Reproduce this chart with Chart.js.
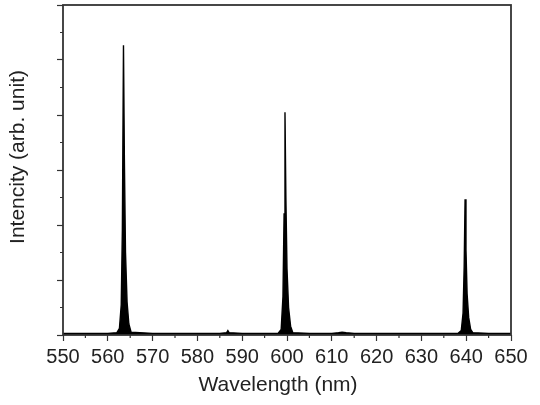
<!DOCTYPE html>
<html>
<head>
<meta charset="utf-8">
<script src="https://cdn.jsdelivr.net/npm/chart.js@4/dist/chart.umd.min.js"></script>
<style>
  html, body { margin: 0; padding: 0; background: #fff; }
  #wrap { width: 540px; height: 405px; }
</style>
</head>
<body>
<div id="wrap"><canvas id="myChart"></canvas></div>
<script>
// spectrum (wavelength in nm, intensity in arb. units)
const wavelength = [
    550, 555, 560, 562.0, 562.6, 563.0, 563.25, 563.5, 563.7, 563.95, 564.3, 564.7, 565.2,
    570, 575, 580, 585, 586.5, 586.8, 587.1, 590, 595,
    598.0, 598.7, 599.1, 599.35, 599.55, 599.75, 600.0, 600.35, 600.8, 601.3,
    605, 610, 611.5, 612.3, 613.2, 615, 620, 625, 630, 635,
    638.2, 638.9, 639.3, 639.55, 639.75, 639.95, 640.2, 640.55, 641.0, 641.5,
    645, 650
];
const intensity = [
    0.03, 0.03, 0.03, 0.04, 0.12, 0.55, 1.90, 5.27, 3.20, 1.50, 0.60, 0.20, 0.05,
    0.03, 0.03, 0.03, 0.03, 0.04, 0.08, 0.04, 0.03, 0.03,
    0.03, 0.10, 0.70, 2.20, 4.05, 2.50, 1.20, 0.50, 0.16, 0.04,
    0.03, 0.03, 0.04, 0.05, 0.04, 0.03, 0.03, 0.03, 0.03, 0.03,
    0.03, 0.08, 0.40, 1.25, 2.47, 1.55, 0.75, 0.32, 0.10, 0.04,
    0.03, 0.03
];
const xTickLabels = ['550', '560', '570', '580', '590', '600', '610', '620', '630', '640', '650'];
const yTicks = [0, 1, 2, 3, 4, 5, 6];
const xTitle = 'Wavelength (nm)';
const yTitle = 'Intencity (arb. unit)';

const AXIS = '#333';
const FONT = "'Liberation Sans', Arial, sans-serif";
const points = wavelength.map((w, i) => ({ x: w, y: intensity[i] }));

// frame, short minor ticks and the two axis titles
const framePlugin = {
    id: 'frame',
    afterDraw(chart) {
        const { ctx, chartArea: a, scales } = chart;
        ctx.save();
        ctx.strokeStyle = AXIS;
        ctx.lineWidth = 1.8;
        ctx.strokeRect(a.left, a.top, a.right - a.left, a.bottom - a.top);
        ctx.lineWidth = 1.2;
        ctx.beginPath();
        for (let v = 555; v < 650; v += 10) {
            const px = scales.x.getPixelForValue(v);
            ctx.moveTo(px, a.bottom);
            ctx.lineTo(px, a.bottom + 3);
        }
        for (let v = 0.5; v < 6; v += 1) {
            const py = scales.y.getPixelForValue(v);
            ctx.moveTo(a.left, py);
            ctx.lineTo(a.left - 3, py);
        }
        ctx.stroke();

        ctx.fillStyle = '#222';
        ctx.font = '21px ' + FONT;
        ctx.textAlign = 'center';
        ctx.textBaseline = 'middle';
        ctx.fillText(xTitle, (a.left + a.right) / 2 - 9, a.bottom + 50);
        ctx.translate(a.left - 45, (a.top + a.bottom) / 2 - 13);
        ctx.rotate(-Math.PI / 2);
        ctx.fillText(yTitle, 0, 0);
        ctx.restore();
    }
};

const ctx = document.getElementById('myChart').getContext('2d');

new Chart(ctx, {
    type: 'scatter',
    data: {
        datasets: [{
            data: points,
            showLine: true,
            borderColor: '#000',
            borderWidth: 1.4,
            backgroundColor: '#000',
            fill: 'origin',
            pointRadius: 0,
            tension: 0
        }]
    },
    options: {
        responsive: true,
        maintainAspectRatio: false,
        animation: false,
        layout: { padding: { top: 5, right: 29, left: 0, bottom: 0 } },
        plugins: {
            legend: { display: false },
            tooltip: { enabled: false }
        },
        scales: {
            x: {
                type: 'linear',
                min: 550,
                max: 650,
                afterBuildTicks: (scale) => {
                    scale.ticks = xTickLabels.map(t => ({ value: Number(t) }));
                },
                ticks: {
                    color: '#222',
                    padding: 4,
                    maxRotation: 0,
                    autoSkip: false,
                    font: { family: FONT, size: 20 },
                    callback: (v) => String(v)
                },
                grid: {
                    drawOnChartArea: false,
                    tickLength: 6,
                    tickWidth: 1.2,
                    tickColor: AXIS
                },
                border: { display: false },
                title: { display: false },
                afterFit: (scale) => { scale.height = 70; }
            },
            y: {
                min: 0,
                max: 6,
                afterBuildTicks: (scale) => {
                    scale.ticks = yTicks.map(v => ({ value: v }));
                },
                ticks: { display: false },
                grid: {
                    drawOnChartArea: false,
                    tickLength: 6,
                    tickWidth: 1.2,
                    tickColor: AXIS
                },
                border: { display: false },
                title: { display: false },
                afterFit: (scale) => { scale.width = 63; }
            }
        }
    },
    plugins: [framePlugin]
});
</script>
</body>
</html>
